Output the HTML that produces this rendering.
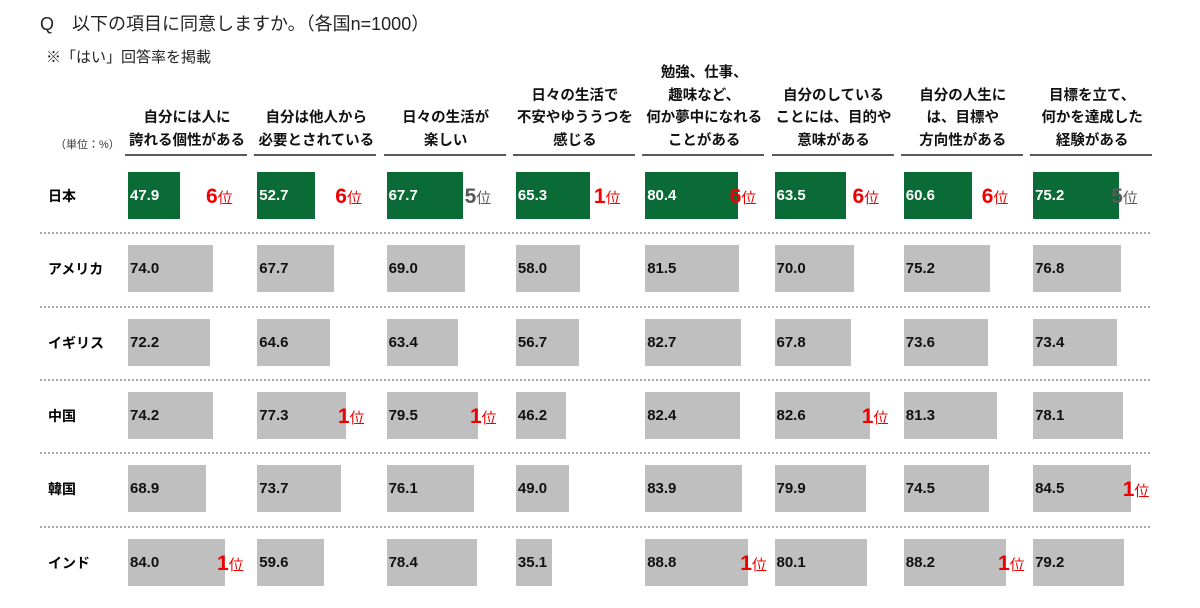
<!DOCTYPE html>
<html><head><meta charset="utf-8">
<style>
body{margin:0;width:1200px;height:608px;background:#fff;font-family:"Liberation Sans","Noto Sans CJK JP",sans-serif;position:relative;overflow:hidden}
.abs{position:absolute}
.hdr{position:absolute;width:124px;text-align:center;font-weight:bold;font-size:14.5px;line-height:22.5px;color:#111;bottom:456px}
.uline{position:absolute;top:154px;height:2px;background:#595959;width:122px}
.row{position:absolute;left:48px;font-weight:bold;font-size:14px;color:#000}
.sep{position:absolute;left:40px;width:1110px;height:0;border-top:2px dotted #a8a8a8}
.bar{position:absolute;height:47px}
.val{position:absolute;font-weight:bold;font-size:15px;line-height:47px}
.rank{position:absolute;font-weight:bold;line-height:47px;white-space:nowrap}
.rank b{font-size:21px}
.rank span{font-size:15px;font-weight:normal}
</style></head><body>
<div class="abs" style="left:40px;top:10px;font-size:18px;color:#222">Q　以下の項目に同意しますか。（各国n=1000）</div>
<div class="abs" style="left:46px;top:46px;font-size:15px;color:#222">※「はい」回答率を掲載</div>
<div class="abs" style="left:55px;top:136px;font-size:11px;color:#333">（単位：%）</div>
<div id="chart"></div>
<script>
const categories=["自分には人に<br>誇れる個性がある","自分は他人から<br>必要とされている","日々の生活が<br>楽しい","日々の生活で<br>不安やゆううつを<br>感じる","勉強、仕事、<br>趣味など、<br>何か夢中になれる<br>ことがある","自分のしている<br>ことには、目的や<br>意味がある","自分の人生に<br>は、目標や<br>方向性がある","目標を立て、<br>何かを達成した<br>経験がある"];
const countries=["日本","アメリカ","イギリス","中国","韓国","インド"];
const japan=[47.9,52.7,67.7,65.3,80.4,63.5,60.6,75.2];
const usa=[74.0,67.7,69.0,58.0,81.5,70.0,75.2,76.8];
const uk=[72.2,64.6,63.4,56.7,82.7,67.8,73.6,73.4];
const china=[74.2,77.3,79.5,46.2,82.4,82.6,81.3,78.1];
const korea=[68.9,73.7,76.1,49.0,83.9,79.9,74.5,84.5];
const india=[84.0,59.6,78.4,35.1,88.8,80.1,88.2,79.2];
const japanRanks=[6,6,5,1,6,6,6,5];
const series=[japan,usa,uk,china,korea,india];
const colLeft=i=>125+i*129.3;
const rowTop=r=>172+r*73.3;
const w=v=>(v-6.4)*1.25;
const root=document.getElementById('chart');
function mk(cls,name,inter){const e=document.createElement('div');e.className=cls;root.appendChild(e);return e;}
categories.forEach((c,i)=>{
 const h=mk('hdr','column-header','false');
 
 h.innerHTML=c;h.style.left=colLeft(i)+'px';
 const u=mk('uline','header-underline','false');
 
 u.style.left=colLeft(i)+'px';
});
countries.forEach((c,r)=>{
 const l=mk('row','country-label','false');
 
 l.textContent=c;l.style.top=(rowTop(r)+14)+'px';
 if(r>0){const s=mk('sep','row-separator','false');
 
 s.style.top=(rowTop(r)-13)+'px';}
 series[r].forEach((v,i)=>{
  const x=colLeft(i)+3, bw=w(v);
  const b=mk('bar','bar','true');
  
  b.style.left=x+'px';b.style.top=rowTop(r)+'px';b.style.width=bw+'px';
  b.style.background=r===0?'#0b6b37':'#bfbfbf';
  const t=mk('val','bar-value','false');
  
  t.textContent=v.toFixed(1);t.style.left=(x+2)+'px';t.style.top=rowTop(r)+'px';
  t.style.color=r===0?'#fff':'#111';
  let rank=null;
  if(r===0) rank=japanRanks[i];
  else{const col=series.map(s=>s[i]);if(v===Math.max(...col))rank=1;}
  if(rank!==null){
   const k=mk('rank','rank-label','false');
   
   k.innerHTML='<b>'+rank+'</b><span>位</span>';
   k.style.left=(x+Math.max(78,bw-8))+'px';k.style.top=(rowTop(r)+1)+'px';
   k.style.color=rank===5?'#595959':'#ee0000';
  }
 });
});
</script>
</body></html>
